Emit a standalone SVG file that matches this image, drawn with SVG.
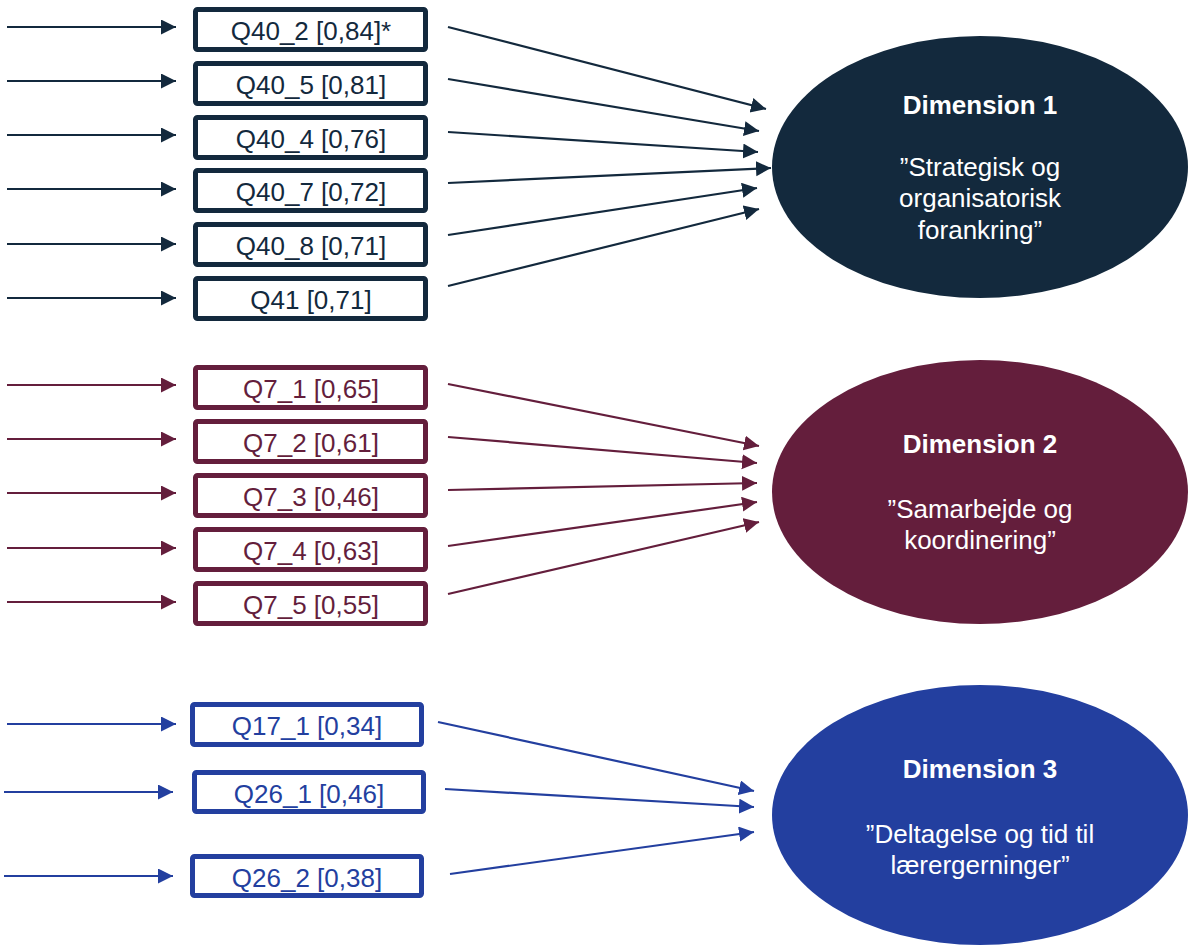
<svg xmlns="http://www.w3.org/2000/svg" width="1192" height="946" viewBox="0 0 1192 946">
<style>
.lbl{font-family:"Liberation Sans",Arial,sans-serif;font-size:26px;text-anchor:middle}
.dh{font-family:"Liberation Sans",Arial,sans-serif;font-size:26px;font-weight:bold;fill:#fff;text-anchor:middle}
.dt{font-family:"Liberation Sans",Arial,sans-serif;font-size:26px;fill:#fff;text-anchor:middle}
.box{fill:#fff;stroke-width:5}
.c1{stroke:#13293D;fill:none}.c2{stroke:#641E3C;fill:none}.c3{stroke:#233F9F;fill:none}
.t1{fill:#13293D}.t2{fill:#641E3C}.t3{fill:#233F9F}
.ln{stroke-width:2.2}
</style>
<defs>
<marker id="a1" markerUnits="userSpaceOnUse" markerWidth="16" markerHeight="16" refX="15" refY="7.5" orient="auto"><path d="M0,0L15,7.5L0,15z" fill="#13293D"/></marker>
<marker id="a2" markerUnits="userSpaceOnUse" markerWidth="16" markerHeight="16" refX="15" refY="7.5" orient="auto"><path d="M0,0L15,7.5L0,15z" fill="#641E3C"/></marker>
<marker id="a3" markerUnits="userSpaceOnUse" markerWidth="16" markerHeight="16" refX="15" refY="7.5" orient="auto"><path d="M0,0L15,7.5L0,15z" fill="#233F9F"/></marker>
</defs>
<rect width="1192" height="946" fill="#fff"/>
<g id="connectors">
<g class="c1 ln" marker-end="url(#a1)">
<line x1="7" y1="27" x2="176" y2="27"/>
<line x1="7" y1="81" x2="176" y2="81"/>
<line x1="7" y1="135" x2="176" y2="135"/>
<line x1="7" y1="189" x2="176" y2="189"/>
<line x1="7" y1="244" x2="176" y2="244"/>
<line x1="7" y1="298" x2="176" y2="298"/>
<line x1="448" y1="27" x2="766" y2="109"/>
<line x1="448" y1="79" x2="759" y2="131"/>
<line x1="448" y1="132" x2="758" y2="152"/>
<line x1="448" y1="183" x2="771" y2="168"/>
<line x1="448" y1="235" x2="757" y2="188"/>
<line x1="448" y1="286" x2="759" y2="209"/>
</g>
<g class="c2 ln" marker-end="url(#a2)">
<line x1="7" y1="385" x2="176" y2="385"/>
<line x1="7" y1="439" x2="176" y2="439"/>
<line x1="7" y1="493" x2="176" y2="493"/>
<line x1="7" y1="548" x2="176" y2="548"/>
<line x1="7" y1="602" x2="176" y2="602"/>
<line x1="448" y1="384" x2="759" y2="446"/>
<line x1="448" y1="437" x2="757" y2="463"/>
<line x1="448" y1="490" x2="757" y2="483"/>
<line x1="448" y1="546" x2="757" y2="502"/>
<line x1="448" y1="594" x2="759" y2="522"/>
</g>
<g class="c3 ln" marker-end="url(#a3)">
<line x1="7" y1="724" x2="176" y2="724"/>
<line x1="4" y1="792" x2="173" y2="792"/>
<line x1="4" y1="876" x2="173" y2="876"/>
<line x1="438" y1="722" x2="754" y2="791"/>
<line x1="445" y1="789" x2="754" y2="807"/>
<line x1="450" y1="874" x2="754" y2="832"/>
</g>
</g>
<g id="q40_2"><rect class="box c1" x="195.5" y="9.5" width="230" height="40" rx="2" style="fill:#fff"/><text class="lbl t1" x="311" y="40">Q40_2 [0,84]*</text></g>
<g id="q40_5"><rect class="box c1" x="195.5" y="63.5" width="230" height="40" rx="2" style="fill:#fff"/><text class="lbl t1" x="311" y="94">Q40_5 [0,81]</text></g>
<g id="q40_4"><rect class="box c1" x="195.5" y="117.5" width="230" height="40" rx="2" style="fill:#fff"/><text class="lbl t1" x="311" y="148">Q40_4 [0,76]</text></g>
<g id="q40_7"><rect class="box c1" x="195.5" y="170.5" width="230" height="40" rx="2" style="fill:#fff"/><text class="lbl t1" x="311" y="201">Q40_7 [0,72]</text></g>
<g id="q40_8"><rect class="box c1" x="195.5" y="224.5" width="230" height="40" rx="2" style="fill:#fff"/><text class="lbl t1" x="311" y="255">Q40_8 [0,71]</text></g>
<g id="q41"><rect class="box c1" x="195.5" y="278.5" width="230" height="40" rx="2" style="fill:#fff"/><text class="lbl t1" x="311" y="309">Q41 [0,71]</text></g>
<g id="q7_1"><rect class="box c2" x="195.5" y="367.5" width="230" height="40" rx="2" style="fill:#fff"/><text class="lbl t2" x="311" y="398">Q7_1 [0,65]</text></g>
<g id="q7_2"><rect class="box c2" x="195.5" y="421.5" width="230" height="40" rx="2" style="fill:#fff"/><text class="lbl t2" x="311" y="452">Q7_2 [0,61]</text></g>
<g id="q7_3"><rect class="box c2" x="195.5" y="475.5" width="230" height="40" rx="2" style="fill:#fff"/><text class="lbl t2" x="311" y="506">Q7_3 [0,46]</text></g>
<g id="q7_4"><rect class="box c2" x="195.5" y="529.5" width="230" height="40" rx="2" style="fill:#fff"/><text class="lbl t2" x="311" y="560">Q7_4 [0,63]</text></g>
<g id="q7_5"><rect class="box c2" x="195.5" y="583.5" width="230" height="40" rx="2" style="fill:#fff"/><text class="lbl t2" x="311" y="614">Q7_5 [0,55]</text></g>
<g id="q17_1"><rect class="box c3" x="192.5" y="704.5" width="229" height="40" rx="2" style="fill:#fff"/><text class="lbl t3" x="307" y="735">Q17_1 [0,34]</text></g>
<g id="q26_1"><rect class="box c3" x="194.5" y="772.5" width="229" height="39" rx="2" style="fill:#fff"/><text class="lbl t3" x="309" y="803">Q26_1 [0,46]</text></g>
<g id="q26_2"><rect class="box c3" x="192.5" y="856.5" width="229" height="39" rx="2" style="fill:#fff"/><text class="lbl t3" x="307" y="887">Q26_2 [0,38]</text></g>
<g id="dim1"><ellipse cx="980" cy="167" rx="208" ry="131" fill="#13293D"/>
<text class="dh" x="980" y="114">Dimension 1</text>
<text class="dt" x="980" y="176">”Strategisk og</text>
<text class="dt" x="980" y="207">organisatorisk</text>
<text class="dt" x="980" y="239">forankring”</text></g>
<g id="dim2"><ellipse cx="980" cy="492" rx="208" ry="132" fill="#641E3C"/>
<text class="dh" x="980" y="453">Dimension 2</text>
<text class="dt" x="980" y="518">”Samarbejde og</text>
<text class="dt" x="980" y="549">koordinering”</text></g>
<g id="dim3"><ellipse cx="980" cy="815" rx="208" ry="130" fill="#233F9F"/>
<text class="dh" x="980" y="778">Dimension 3</text>
<text class="dt" x="980" y="843">”Deltagelse og tid til</text>
<text class="dt" x="980" y="874">lærergerninger”</text></g>
</svg>
